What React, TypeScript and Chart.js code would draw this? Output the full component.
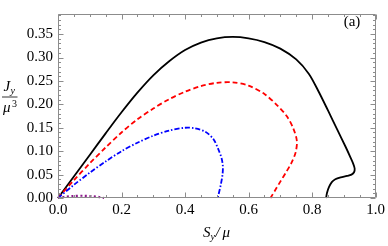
import React, { useEffect, useRef } from 'react';
import { Chart, registerables } from 'chart.js';

Chart.register(...registerables);

// Data (S_y/μ, J_y/μ^3)
const blackX = [0, 0.05, 0.1, 0.15, 0.2, 0.25, 0.3, 0.35, 0.4, 0.45, 0.5, 0.55, 0.6, 0.65, 0.7, 0.75, 0.79, 0.82, 0.85, 0.88, 0.905, 0.92, 0.929, 0.934, 0.932, 0.924, 0.91, 0.89, 0.873, 0.862, 0.853, 0.847, 0.844];
const blackY = [0, 0.046, 0.092, 0.138, 0.183, 0.225, 0.262, 0.292, 0.316, 0.332, 0.341, 0.344, 0.341, 0.333, 0.319, 0.296, 0.265, 0.228, 0.187, 0.145, 0.11, 0.088, 0.074, 0.063, 0.055, 0.05, 0.047, 0.044, 0.04, 0.034, 0.023, 0.011, 0];

const redX = [0, 0.05, 0.1, 0.15, 0.2, 0.25, 0.3, 0.35, 0.4, 0.45, 0.5, 0.55, 0.6, 0.65, 0.69, 0.72, 0.74, 0.752, 0.748, 0.735, 0.718, 0.7, 0.685, 0.669];
const redY = [0, 0.038, 0.074, 0.108, 0.14, 0.168, 0.191, 0.211, 0.227, 0.239, 0.246, 0.247, 0.24, 0.222, 0.198, 0.175, 0.15, 0.122, 0.097, 0.075, 0.055, 0.035, 0.018, 0];

const blueX = [0, 0.05, 0.1, 0.15, 0.2, 0.25, 0.3, 0.35, 0.4, 0.43, 0.465, 0.49, 0.506, 0.515, 0.519, 0.518, 0.513, 0.503];
const blueY = [0, 0.028, 0.054, 0.078, 0.1, 0.118, 0.133, 0.144, 0.15, 0.149, 0.141, 0.125, 0.102, 0.085, 0.068, 0.05, 0.03, 0];

const purpleX = [0, 0.02, 0.05, 0.08, 0.11, 0.13, 0.145];
const purpleY = [0, 0.0025, 0.0042, 0.0048, 0.0038, 0.002, 0];

const xTicks = [0, 0.2, 0.4, 0.6, 0.8, 1.0];
const yTicks = [0, 0.05, 0.1, 0.15, 0.2, 0.25, 0.3, 0.35];
const xMinorStep = 0.05;
const yMinorStep = 0.01;
const X_MIN = 0, X_MAX = 1.0, Y_MIN = 0, Y_MAX = 0.393;

const zip = (xs: number[], ys: number[]) => xs.map((x, i) => ({ x, y: ys[i] }));

const FRAME = '#8c8c8c';
const SERIF = "'Liberation Serif', 'DejaVu Serif', serif";

const framePlugin = {
  id: 'framePlugin',
  afterDraw(chart: any) {
    const { ctx, chartArea: a, scales } = chart;
    const xs = scales.x, ys = scales.y;
    ctx.save();
    ctx.strokeStyle = FRAME;
    ctx.lineWidth = 1;
    const L = Math.round(a.left) + 0.5, R = Math.round(a.right) - 0.5;
    const T = Math.round(a.top) + 0.5, B = Math.round(a.bottom) - 0.5;
    ctx.beginPath();
    ctx.rect(L, T, R - L, B - T);
    ctx.stroke();
    const eps = 1e-9;
    ctx.beginPath();
    for (let v = X_MIN; v <= X_MAX + eps; v += xMinorStep) {
      const major = xTicks.some(t => Math.abs(t - v) < 1e-6);
      const len = major ? 5 : 2.5;
      const px = Math.round(xs.getPixelForValue(v)) + 0.5;
      ctx.moveTo(px, B); ctx.lineTo(px, B - len);
      ctx.moveTo(px, T); ctx.lineTo(px, T + len);
    }
    for (let v = Y_MIN; v <= Y_MAX + eps; v += yMinorStep) {
      const major = yTicks.some(t => Math.abs(t - v) < 1e-6);
      const len = major ? 5 : 2.5;
      const py = Math.round(ys.getPixelForValue(v)) + 0.5;
      ctx.moveTo(L, py); ctx.lineTo(L + len, py);
      ctx.moveTo(R, py); ctx.lineTo(R - len, py);
    }
    ctx.stroke();

    ctx.fillStyle = '#000';
    ctx.textBaseline = 'alphabetic';
    ctx.textAlign = 'left';
    // y title: J_y / μ^3
    ctx.font = `italic 15px ${SERIF}`;
    ctx.fillText('J', 3.5, 91);
    ctx.font = `italic 10px ${SERIF}`;
    ctx.fillText('y', 10.5, 94);
    ctx.strokeStyle = '#000';
    ctx.lineWidth = 0.8;
    ctx.beginPath();
    ctx.moveTo(2, 97); ctx.lineTo(17.5, 97);
    ctx.stroke();
    ctx.font = `italic 15px ${SERIF}`;
    ctx.fillText('μ', 3, 112);
    ctx.font = `10px ${SERIF}`;
    ctx.fillText('3', 12, 107);
    // x title: S_y/μ
    ctx.font = `italic 15px ${SERIF}`;
    ctx.fillText('S', 203, 237);
    ctx.font = `italic 10px ${SERIF}`;
    ctx.fillText('y', 210.5, 240);
    ctx.font = `italic 15px ${SERIF}`;
    ctx.fillText('/', 215.5, 237);
    ctx.fillText('μ', 222.5, 237);
    // panel label
    ctx.font = `15px ${SERIF}`;
    ctx.textAlign = 'center';
    ctx.fillText('(a)', 352, 26);
    ctx.restore();
  },
};

export default function App() {
  const ref = useRef<HTMLCanvasElement | null>(null);
  useEffect(() => {
    document.body.style.margin = '0';
    Chart.defaults.font.family = SERIF;
    Chart.defaults.font.size = 15;
    const canvas = ref.current!;
    const common = { showLine: true, pointRadius: 0, fill: false, tension: 0.3, clip: 4 };
    const chart = new Chart(canvas, {
      type: 'scatter',
      data: {
        datasets: [
          { ...common, data: zip(purpleX, purpleY), borderColor: '#8b1a8b', borderWidth: 2.2, borderDash: [2, 2.5] },
          { ...common, data: zip(blueX, blueY), borderColor: '#0000ff', borderWidth: 1.8, borderDash: [5, 2, 1.5, 2] },
          { ...common, data: zip(redX, redY), borderColor: '#ff0000', borderWidth: 1.8, borderDash: [5, 3] },
          { ...common, data: zip(blackX, blackY), borderColor: '#000000', borderWidth: 1.8 },
        ],
      },
      options: {
        animation: false,
        responsive: false,
        maintainAspectRatio: false,
        layout: { padding: { top: 1, right: 10, left: 0, bottom: 0 } },
        plugins: { legend: { display: false }, tooltip: { enabled: false } },
        scales: {
          x: {
            type: 'linear', min: X_MIN, max: X_MAX,
            grid: { display: false, drawTicks: false }, border: { display: false },
            afterBuildTicks: (s: any) => { s.ticks = xTicks.map(v => ({ value: v })); },
            afterFit: (s: any) => { s.height = 48; },
            ticks: {
              padding: 3, color: '#000', maxRotation: 0, autoSkip: false,
              font: { family: SERIF, size: 15 },
              callback: (v: any) => Number(v).toFixed(1),
            },
          },
          y: {
            type: 'linear', min: Y_MIN, max: Y_MAX,
            grid: { display: false, drawTicks: false }, border: { display: false },
            afterBuildTicks: (s: any) => { s.ticks = yTicks.map(v => ({ value: v })); },
            afterFit: (s: any) => { s.width = 58; },
            ticks: {
              padding: 5, color: '#000', autoSkip: false,
              font: { family: SERIF, size: 15 },
              callback: (v: any) => Number(v).toFixed(2),
            },
          },
        },
      },
      plugins: [framePlugin],
    });
    return () => chart.destroy();
  }, []);
  return (
    <div style={{ width: 388, height: 246 }}>
      <canvas ref={ref} width={388} height={246} style={{ display: 'block' }} />
    </div>
  );
}
